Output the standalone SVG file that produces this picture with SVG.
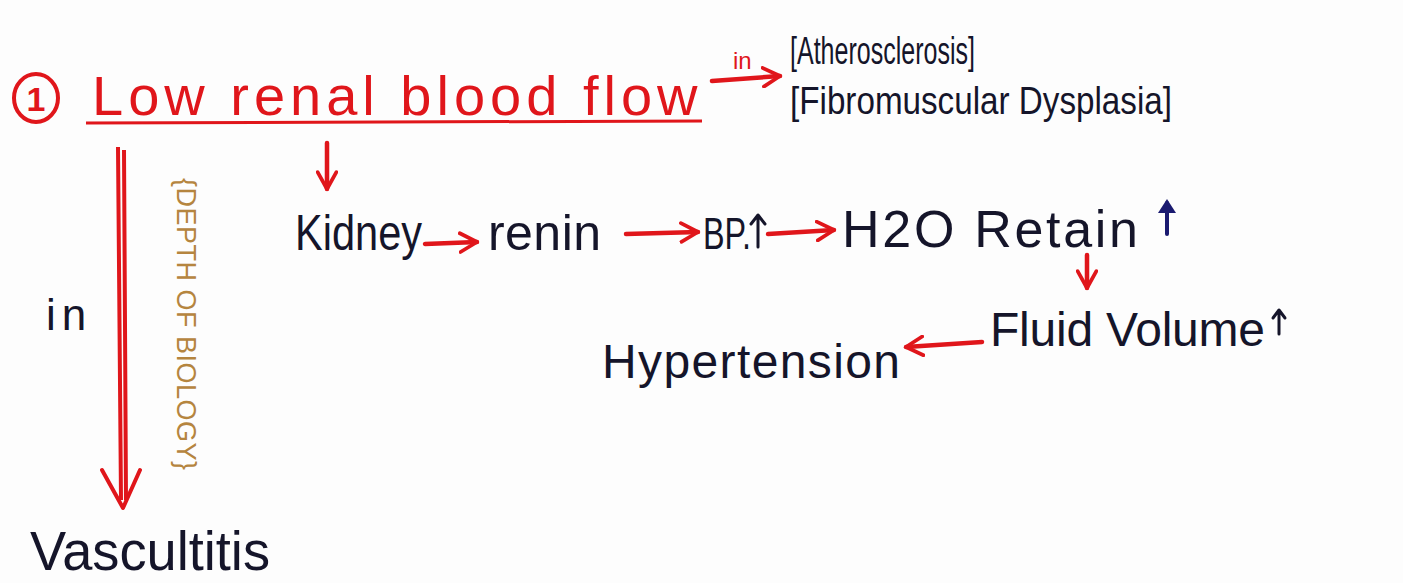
<svg xmlns="http://www.w3.org/2000/svg" width="1403" height="583" viewBox="0 0 1403 583">
  <style>
    .ink { font-family: "Liberation Sans", "DejaVu Sans", sans-serif; fill: #15152a; }
    .red { font-family: "Liberation Sans", "DejaVu Sans", sans-serif; fill: #e0161b; }
    .conn { stroke: #e0161b; stroke-width: 4.5; fill: none; stroke-linecap: round; stroke-linejoin: round; }
    .up { stroke: #15152a; stroke-width: 3; fill: none; stroke-linecap: round; stroke-linejoin: round; }
  </style>
  <defs>
    <marker id="ah" viewBox="0 0 12 12" refX="10" refY="6" markerWidth="5" markerHeight="5" orient="auto" markerUnits="strokeWidth">
      <path d="M1,1 L10,6 L1,11" fill="none" stroke="#e0161b" stroke-width="2" stroke-linecap="round" stroke-linejoin="round"/>
    </marker>
  </defs>
  <rect width="1403" height="583" fill="#fdfdfd"/>

  <g id="title">
    <ellipse cx="36" cy="98" rx="22" ry="24" fill="none" stroke="#e0161b" stroke-width="4"/>
    <text x="36" y="111" text-anchor="middle" class="red" font-size="34" font-weight="bold">1</text>
    <text x="92" y="115" class="red" font-size="56" letter-spacing="5">Low renal blood flow</text>
    <line x1="86" y1="123" x2="702" y2="121" stroke="#e0161b" stroke-width="3"/>
  </g>

  <g id="causes">
    <text x="790" y="64" class="ink" font-size="38" textLength="185" lengthAdjust="spacingAndGlyphs">[Atherosclerosis]</text>
    <text x="790" y="114" class="ink" font-size="38" textLength="382" lengthAdjust="spacingAndGlyphs">[Fibromuscular Dysplasia]</text>
  </g>

  <g id="kidney"><text x="295" y="250" class="ink" font-size="50" textLength="127" lengthAdjust="spacingAndGlyphs">Kidney</text></g>
  <g id="renin"><text x="488" y="250" class="ink" font-size="50" textLength="113" lengthAdjust="spacing">renin</text></g>
  <g id="bp">
    <text x="703" y="249" class="ink" font-size="44" textLength="48" lengthAdjust="spacingAndGlyphs">BP.</text>
    <path class="up" d="M758,247 L758,216 M751,224 L758,215 L765,224"/>
  </g>
  <g id="h2o">
    <text x="842" y="247" class="ink" font-size="52" textLength="296" lengthAdjust="spacing">H2O Retain</text>
    <path d="M1167,234 L1167,203" stroke="#1a1a70" stroke-width="4" stroke-linecap="round"/>
    <path d="M1158,213 L1167,199 L1176,213 Z" fill="#1a1a70"/>
  </g>
  <g id="fluid">
    <text x="990" y="346" class="ink" font-size="48" textLength="275" lengthAdjust="spacing">Fluid Volume</text>
    <path class="up" d="M1279,334 L1279,311 M1273,318 L1279,310 L1285,318"/>
  </g>
  <g id="hypertension"><text x="602" y="378" class="ink" font-size="48" textLength="298" lengthAdjust="spacing">Hypertension</text></g>
  <g id="vasculitis"><text x="30" y="570" class="ink" font-size="56" textLength="240" lengthAdjust="spacingAndGlyphs">Vascultitis</text></g>

  <g id="connectors">
    <path class="conn" d="M712,81 L780,76" marker-end="url(#ah)"/>
    <text x="733" y="69" class="red" font-size="24">in</text>
    <path class="conn" d="M327,143 L327,189" marker-end="url(#ah)"/>
    <path d="M118,147 L121,500 M124,150 L126,500" stroke="#e0161b" stroke-width="4" fill="none"/>
    <path d="M102,470 L123,508 L140,470" stroke="#e0161b" stroke-width="4" fill="none" stroke-linecap="round" stroke-linejoin="round"/>
    <text x="46" y="330" class="ink" font-size="44" letter-spacing="6">in</text>
    <path class="conn" d="M425,244 L477,242" marker-end="url(#ah)"/>
    <path class="conn" d="M626,234 L698,232" marker-end="url(#ah)"/>
    <path class="conn" d="M768,234 L834,230" marker-end="url(#ah)"/>
    <path class="conn" d="M1087,255 L1087,288" marker-end="url(#ah)"/>
    <path class="conn" d="M982,342 L906,347" marker-end="url(#ah)"/>
  </g>

  <g id="watermark-label">
    <text transform="translate(177,178) rotate(90)" font-family="Liberation Sans, sans-serif" font-size="27" fill="#b5853f" textLength="292" lengthAdjust="spacing">{DEPTH OF BIOLOGY}</text>
  </g>
</svg>
